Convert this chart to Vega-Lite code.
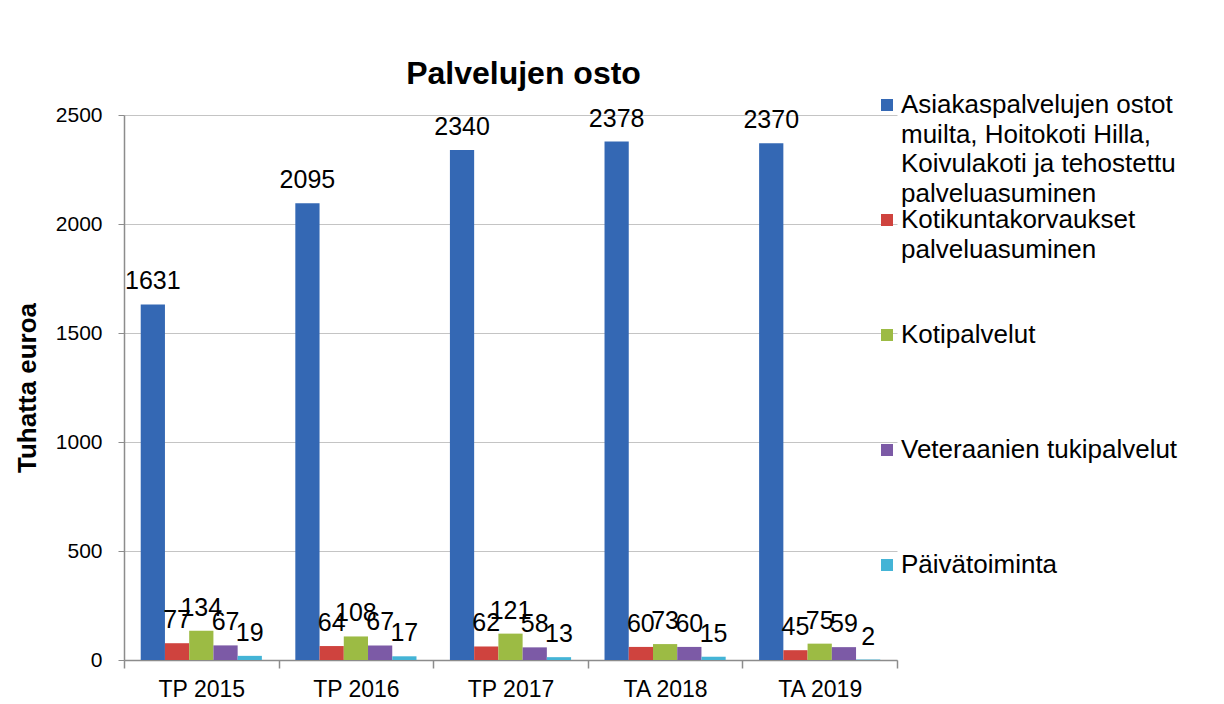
{
  "$schema": "https://vega.github.io/schema/vega-lite/v6.json",
  "width": 773,
  "height": 545,
  "autosize": {"type": "none"},
  "padding": {"left": 124, "top": 115, "right": 327, "bottom": 44},
  "background": "white",
  "title": {
    "text": "Palvelujen osto",
    "font": "Liberation Sans",
    "fontSize": 32,
    "fontWeight": "bold",
    "color": "#000000",
    "anchor": "middle",
    "dx": 13,
    "offset": 1
  },
  "data": {
    "values": [
      {"vuosi": "TP 2015", "sarja": "Asiakaspalvelujen ostot muilta, Hoitokoti Hilla, Koivulakoti ja tehostettu palveluasuminen", "arvo": 1631},
      {"vuosi": "TP 2015", "sarja": "Kotikuntakorvaukset palveluasuminen", "arvo": 77},
      {"vuosi": "TP 2015", "sarja": "Kotipalvelut", "arvo": 134},
      {"vuosi": "TP 2015", "sarja": "Veteraanien tukipalvelut", "arvo": 67},
      {"vuosi": "TP 2015", "sarja": "Päivätoiminta", "arvo": 19},
      {"vuosi": "TP 2016", "sarja": "Asiakaspalvelujen ostot muilta, Hoitokoti Hilla, Koivulakoti ja tehostettu palveluasuminen", "arvo": 2095},
      {"vuosi": "TP 2016", "sarja": "Kotikuntakorvaukset palveluasuminen", "arvo": 64},
      {"vuosi": "TP 2016", "sarja": "Kotipalvelut", "arvo": 108},
      {"vuosi": "TP 2016", "sarja": "Veteraanien tukipalvelut", "arvo": 67},
      {"vuosi": "TP 2016", "sarja": "Päivätoiminta", "arvo": 17},
      {"vuosi": "TP 2017", "sarja": "Asiakaspalvelujen ostot muilta, Hoitokoti Hilla, Koivulakoti ja tehostettu palveluasuminen", "arvo": 2340},
      {"vuosi": "TP 2017", "sarja": "Kotikuntakorvaukset palveluasuminen", "arvo": 62},
      {"vuosi": "TP 2017", "sarja": "Kotipalvelut", "arvo": 121},
      {"vuosi": "TP 2017", "sarja": "Veteraanien tukipalvelut", "arvo": 58},
      {"vuosi": "TP 2017", "sarja": "Päivätoiminta", "arvo": 13},
      {"vuosi": "TA 2018", "sarja": "Asiakaspalvelujen ostot muilta, Hoitokoti Hilla, Koivulakoti ja tehostettu palveluasuminen", "arvo": 2378},
      {"vuosi": "TA 2018", "sarja": "Kotikuntakorvaukset palveluasuminen", "arvo": 60},
      {"vuosi": "TA 2018", "sarja": "Kotipalvelut", "arvo": 73},
      {"vuosi": "TA 2018", "sarja": "Veteraanien tukipalvelut", "arvo": 60},
      {"vuosi": "TA 2018", "sarja": "Päivätoiminta", "arvo": 15},
      {"vuosi": "TA 2019", "sarja": "Asiakaspalvelujen ostot muilta, Hoitokoti Hilla, Koivulakoti ja tehostettu palveluasuminen", "arvo": 2370},
      {"vuosi": "TA 2019", "sarja": "Kotikuntakorvaukset palveluasuminen", "arvo": 45},
      {"vuosi": "TA 2019", "sarja": "Kotipalvelut", "arvo": 75},
      {"vuosi": "TA 2019", "sarja": "Veteraanien tukipalvelut", "arvo": 59},
      {"vuosi": "TA 2019", "sarja": "Päivätoiminta", "arvo": 2}
    ]
  },
  "encoding": {
    "x": {
      "field": "vuosi",
      "type": "nominal",
      "sort": ["TP 2015", "TP 2016", "TP 2017", "TA 2018", "TA 2019"],
      "scale": {"paddingInner": 0, "paddingOuter": 0},
      "axis": {
        "title": null,
        "labelAngle": 0,
        "labelFont": "Liberation Sans",
        "labelFontSize": 23,
        "labelColor": "#000000",
        "labelPadding": 10,
        "domainColor": "#8c8c8c",
        "domainWidth": 1.5,
        "tickColor": "#8c8c8c",
        "tickSize": 8,
        "tickWidth": 1.5,
        "tickBand": "extent",
        "grid": false
      }
    },
    "xOffset": {
      "field": "sarja",
      "type": "nominal",
      "sort": ["Asiakaspalvelujen ostot muilta, Hoitokoti Hilla, Koivulakoti ja tehostettu palveluasuminen", "Kotikuntakorvaukset palveluasuminen", "Kotipalvelut", "Veteraanien tukipalvelut", "Päivätoiminta"],
      "scale": {"paddingInner": 0, "paddingOuter": 0.69}
    },
    "y": {
      "field": "arvo",
      "type": "quantitative",
      "scale": {"domain": [0, 2500], "nice": false},
      "axis": {
        "title": "Tuhatta euroa",
        "titleFont": "Liberation Sans",
        "titleFontSize": 26,
        "titleFontWeight": "bold",
        "titleColor": "#000000",
        "titlePadding": 15,
        "values": [0, 500, 1000, 1500, 2000, 2500],
        "format": "d",
        "labelFont": "Liberation Sans",
        "labelFontSize": 21,
        "labelColor": "#000000",
        "labelPadding": 16,
        "domainColor": "#8c8c8c",
        "domainWidth": 1.5,
        "tickColor": "#8c8c8c",
        "tickSize": 6,
        "tickWidth": 1,
        "grid": true,
        "gridColor": "#c4c4c4",
        "gridWidth": 1
      }
    }
  },
  "layer": [
    {
      "mark": {"type": "bar", "stroke": null},
      "encoding": {
        "color": {
          "field": "sarja",
          "type": "nominal",
          "scale": {
            "domain": ["Asiakaspalvelujen ostot muilta, Hoitokoti Hilla, Koivulakoti ja tehostettu palveluasuminen", "Kotikuntakorvaukset palveluasuminen", "Kotipalvelut", "Veteraanien tukipalvelut", "Päivätoiminta"],
            "range": ["#3468b4", "#cf433e", "#9cbb44", "#7c5aa6", "#44b4d6"]
          },
          "legend": {
            "title": null,
            "orient": "none",
            "legendX": 750,
            "legendY": -23,
            "padding": 0,
            "symbolType": "square",
            "symbolSize": 144,
            "symbolStrokeWidth": 0,
            "symbolOpacity": 1,
            "labelFont": "Liberation Sans",
            "labelFontSize": 26,
            "labelColor": "#000000",
            "labelLimit": 400,
            "labelOffset": 1,
            "labelBaseline": "middle",
            "labelExpr": "datum.label == 'Asiakaspalvelujen ostot muilta, Hoitokoti Hilla, Koivulakoti ja tehostettu palveluasuminen' ? ['Asiakaspalvelujen ostot', 'muilta, Hoitokoti Hilla,', 'Koivulakoti ja tehostettu', 'palveluasuminen'] : datum.label == 'Kotikuntakorvaukset palveluasuminen' ? ['Kotikuntakorvaukset', 'palveluasuminen'] : datum.label",
            "gridAlign": "all",
            "rowPadding": 0
          }
        }
      }
    },
    {
      "mark": {
        "type": "text",
        "baseline": "bottom",
        "dy": -10,
        "font": "Liberation Sans",
        "fontSize": 25,
        "color": "#000000"
      },
      "encoding": {
        "text": {"field": "arvo", "type": "quantitative"}
      }
    }
  ],
  "config": {
    "view": {"stroke": null},
    "style": {"guide-label": {"lineHeight": 29.5}}
  }
}
